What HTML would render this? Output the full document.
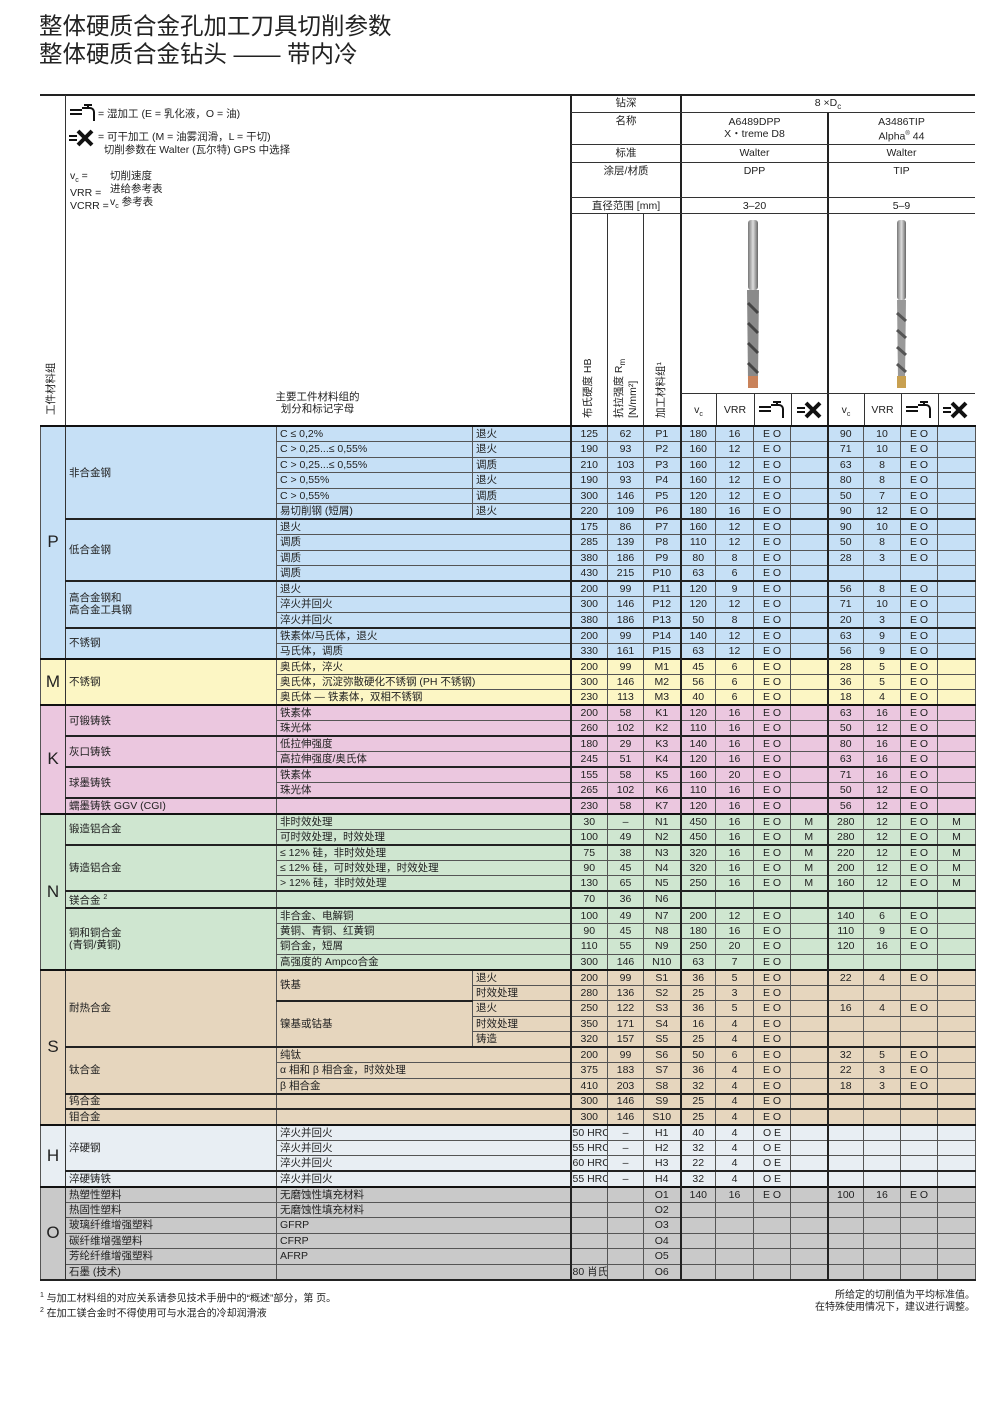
<!DOCTYPE html>
<html><head><meta charset="utf-8">
<style>
*{margin:0;padding:0;box-sizing:border-box}
body{width:1000px;height:1417px;background:#fff;position:relative;font-family:"Liberation Sans","Noto Sans CJK SC",sans-serif;color:#222;overflow:hidden}
.a{position:absolute}
.t{font-size:23.5px;left:39px;line-height:28px;color:#222}
.hl{position:absolute;background:#333;height:1px}
.vl{position:absolute;background:#333;width:1px}
.hc{position:absolute;font-size:10.5px;text-align:center;line-height:12px}
.rot{position:absolute;transform:rotate(-90deg);transform-origin:left top;font-size:10.5px;white-space:nowrap;line-height:11px}
table{position:absolute;left:40px;top:425px;border-collapse:collapse;table-layout:fixed;width:935px;font-size:10.5px}
tr{height:15.5px}
td{border:1px solid #555;padding:0 3px;line-height:12px;white-space:nowrap;overflow:hidden;text-align:center}
td.l{text-align:left;vertical-align:middle}
td.L{font-size:17px;text-align:center;border-right:1px solid #333}
td:nth-last-child(11),td:nth-last-child(8),td:nth-last-child(4){border-left:2px solid #222}
tr.g td{border-top:2px solid #222}
tr.G td{border-top:2px solid #111}
.P{background:#c6e0f6}.M{background:#fcf6c4}.K{background:#ebc7df}.N{background:#cfe6d0}.S{background:#e6d6be}.H{background:#e8eef3}.O{background:#c9c9c9}
.fn{position:absolute;font-size:10px;line-height:12px}
</style></head><body>
<div class="a t" style="top:12px">整体硬质合金孔加工刀具切削参数</div>
<div class="a t" style="top:40px">整体硬质合金钻头 —— 带内冷</div>

<div class="hl" style="left:40px;top:94px;width:935px;height:2px;background:#222"></div>
<div class="vl" style="left:65px;top:95px;height:330px"></div>
<div class="vl" style="left:570px;top:95px;height:330px;width:2px;background:#222"></div>
<div class="vl" style="left:680px;top:95px;height:330px;width:2px;background:#222"></div>
<div class="vl" style="left:827px;top:112px;height:313px;width:2px;background:#222"></div>
<div class="hl" style="left:571px;top:112px;width:404px"></div>
<div class="hl" style="left:571px;top:144px;width:404px"></div>
<div class="hl" style="left:571px;top:162px;width:404px"></div>
<div class="hl" style="left:571px;top:197px;width:404px"></div>
<div class="hl" style="left:571px;top:213px;width:404px"></div>
<div class="vl" style="left:607px;top:213px;height:212px"></div>
<div class="vl" style="left:643px;top:213px;height:212px"></div>
<div class="hl" style="left:681px;top:393px;width:294px"></div>
<div class="vl" style="left:716px;top:393px;height:32px"></div>
<div class="vl" style="left:754px;top:393px;height:32px"></div>
<div class="vl" style="left:791px;top:393px;height:32px"></div>
<div class="vl" style="left:864px;top:393px;height:32px"></div>
<div class="vl" style="left:901px;top:393px;height:32px"></div>
<div class="vl" style="left:938px;top:393px;height:32px"></div>

<div class="hc" style="left:571px;width:110px;top:97px">钻深</div>
<div class="hc" style="left:681px;width:294px;top:97px">8 ×D<sub style="font-size:8px">c</sub></div>
<div class="hc" style="left:571px;width:110px;top:115px">名称</div>
<div class="hc" style="left:681px;width:147px;top:116px">A6489DPP<br>X・treme D8</div>
<div class="hc" style="left:828px;width:147px;top:116px">A3486TIP<br>Alpha<sup style="font-size:6px">®</sup> 44</div>
<div class="hc" style="left:571px;width:110px;top:147px">标准</div>
<div class="hc" style="left:681px;width:147px;top:147px">Walter</div>
<div class="hc" style="left:828px;width:147px;top:147px">Walter</div>
<div class="hc" style="left:571px;width:110px;top:165px">涂层/材质</div>
<div class="hc" style="left:681px;width:147px;top:165px">DPP</div>
<div class="hc" style="left:828px;width:147px;top:165px">TIP</div>
<div class="hc" style="left:571px;width:110px;top:200px">直径范围 [mm]</div>
<div class="hc" style="left:681px;width:147px;top:200px">3–20</div>
<div class="hc" style="left:828px;width:147px;top:200px">5–9</div>

<div class="rot" style="left:583px;top:418px">布氏硬度 HB</div>
<div class="rot" style="left:614px;top:418px">抗拉强度 R<sub style="font-size:8px">m</sub><br>[N/mm²]</div>
<div class="rot" style="left:656px;top:418px">加工材料组¹</div>
<div class="rot" style="left:46px;top:415px">工件材料组</div>

<div class="hc" style="left:681px;width:35px;top:404px">v<sub style="font-size:7px">c</sub></div>
<div class="hc" style="left:716px;width:38px;top:404px">VRR</div>
<div class="hc" style="left:828px;width:36px;top:404px">v<sub style="font-size:7px">c</sub></div>
<div class="hc" style="left:864px;width:37px;top:404px">VRR</div>
<svg class="a" style="left:757px;top:398px" width="32" height="22"><path d="M2 9h12M2 13h12M14 7h8a4 4 0 0 1 4 4v9" stroke="#111" stroke-width="2" fill="none"/><path d="M16 4h8M20 4v4" stroke="#111" stroke-width="2"/></svg>
<svg class="a" style="left:904px;top:398px" width="32" height="22"><path d="M2 9h12M2 13h12M14 7h8a4 4 0 0 1 4 4v9" stroke="#111" stroke-width="2" fill="none"/><path d="M16 4h8M20 4v4" stroke="#111" stroke-width="2"/></svg>
<svg class="a" style="left:796px;top:400px" width="28" height="20"><path d="M1 8h8M1 12h8" stroke="#111" stroke-width="2"/><path d="M10 3l14 14M24 3L10 17" stroke="#111" stroke-width="4"/></svg>
<svg class="a" style="left:942px;top:400px" width="28" height="20"><path d="M1 8h8M1 12h8" stroke="#111" stroke-width="2"/><path d="M10 3l14 14M24 3L10 17" stroke="#111" stroke-width="4"/></svg>

<svg class="a" style="left:740px;top:218px" width="30" height="175"><defs><linearGradient id="d" x1="0" x2="1"><stop offset="0" stop-color="#777"/><stop offset=".5" stop-color="#ddd"/><stop offset="1" stop-color="#666"/></linearGradient></defs><rect x="8" y="2" width="10" height="70" rx="3" fill="url(#d)"/><path d="M7 72h12l-1 90h-10z" fill="#8a8a8a"/><path d="M8 85l10 10M8 105l10 10M8 125l10 10M8 145l10 10" stroke="#444" stroke-width="3"/><rect x="8" y="158" width="10" height="12" fill="#c9825a"/></svg>
<svg class="a" style="left:888px;top:218px" width="30" height="175"><rect x="9" y="2" width="9" height="80" rx="3" fill="url(#d)"/><path d="M9 82h9l-1 80h-7z" fill="#999"/><path d="M9 95l9 8M9 112l9 8M9 129l9 8M9 146l9 8" stroke="#555" stroke-width="3"/><rect x="9" y="158" width="9" height="12" fill="#c8a050"/></svg>

<svg class="a" style="left:68px;top:101px" width="30" height="22"><path d="M2 9h12M2 13h12M14 7h8a4 4 0 0 1 4 4v9" stroke="#111" stroke-width="2" fill="none"/><path d="M16 4h8M20 4v4" stroke="#111" stroke-width="2"/></svg>
<div class="a" style="left:98px;top:106px;font-size:10.5px">= 湿加工 (E = 乳化液，O = 油)</div>
<svg class="a" style="left:68px;top:128px" width="28" height="20"><path d="M1 8h8M1 12h8" stroke="#111" stroke-width="2"/><path d="M10 3l14 14M24 3L10 17" stroke="#111" stroke-width="4"/></svg>
<div class="a" style="left:98px;top:131px;font-size:10.5px;line-height:13px">= 可干加工 (M = 油雾润滑，L = 干切)<br>&nbsp;&nbsp;切削参数在 Walter (瓦尔特) GPS 中选择</div>
<div class="a" style="left:70px;top:170px;font-size:10.5px;line-height:13px">v<sub style="font-size:7px">c</sub> =<br>VRR =<br>VCRR =</div>
<div class="a" style="left:110px;top:170px;font-size:10.5px;line-height:13px">切削速度<br>进给参考表<br>v<sub style="font-size:7px">c</sub> 参考表</div>
<div class="hc" style="left:250px;width:135px;top:391px">主要工件材料组的<br>划分和标记字母</div>

<table>
<colgroup><col style="width:25px"><col style="width:211px"><col style="width:196px"><col style="width:98px"><col style="width:37px"><col style="width:36px"><col style="width:37px"><col style="width:35px"><col style="width:38px"><col style="width:37px"><col style="width:37px"><col style="width:36px"><col style="width:37px"><col style="width:37px"><col style="width:38px"></colgroup>
<tr class="P G"><td class="L P" rowspan="15">P</td><td class="l" rowspan="6">非合金钢</td><td class="l">C ≤ 0,2%</td><td class="l">退火</td><td>125</td><td>62</td><td>P1</td><td>180</td><td>16</td><td>E O</td><td></td><td>90</td><td>10</td><td>E O</td><td></td></tr>
<tr class="P"><td class="l">C &gt; 0,25...≤ 0,55%</td><td class="l">退火</td><td>190</td><td>93</td><td>P2</td><td>160</td><td>12</td><td>E O</td><td></td><td>71</td><td>10</td><td>E O</td><td></td></tr>
<tr class="P"><td class="l">C &gt; 0,25...≤ 0,55%</td><td class="l">调质</td><td>210</td><td>103</td><td>P3</td><td>160</td><td>12</td><td>E O</td><td></td><td>63</td><td>8</td><td>E O</td><td></td></tr>
<tr class="P"><td class="l">C &gt; 0,55%</td><td class="l">退火</td><td>190</td><td>93</td><td>P4</td><td>160</td><td>12</td><td>E O</td><td></td><td>80</td><td>8</td><td>E O</td><td></td></tr>
<tr class="P"><td class="l">C &gt; 0,55%</td><td class="l">调质</td><td>300</td><td>146</td><td>P5</td><td>120</td><td>12</td><td>E O</td><td></td><td>50</td><td>7</td><td>E O</td><td></td></tr>
<tr class="P"><td class="l">易切削钢 (短屑)</td><td class="l">退火</td><td>220</td><td>109</td><td>P6</td><td>180</td><td>16</td><td>E O</td><td></td><td>90</td><td>12</td><td>E O</td><td></td></tr>
<tr class="P g"><td class="l" rowspan="4">低合金钢</td><td class="l" colspan="2">退火</td><td>175</td><td>86</td><td>P7</td><td>160</td><td>12</td><td>E O</td><td></td><td>90</td><td>10</td><td>E O</td><td></td></tr>
<tr class="P"><td class="l" colspan="2">调质</td><td>285</td><td>139</td><td>P8</td><td>110</td><td>12</td><td>E O</td><td></td><td>50</td><td>8</td><td>E O</td><td></td></tr>
<tr class="P"><td class="l" colspan="2">调质</td><td>380</td><td>186</td><td>P9</td><td>80</td><td>8</td><td>E O</td><td></td><td>28</td><td>3</td><td>E O</td><td></td></tr>
<tr class="P"><td class="l" colspan="2">调质</td><td>430</td><td>215</td><td>P10</td><td>63</td><td>6</td><td>E O</td><td></td><td></td><td></td><td></td><td></td></tr>
<tr class="P g"><td class="l" rowspan="3">高合金钢和<br>高合金工具钢</td><td class="l" colspan="2">退火</td><td>200</td><td>99</td><td>P11</td><td>120</td><td>9</td><td>E O</td><td></td><td>56</td><td>8</td><td>E O</td><td></td></tr>
<tr class="P"><td class="l" colspan="2">淬火并回火</td><td>300</td><td>146</td><td>P12</td><td>120</td><td>12</td><td>E O</td><td></td><td>71</td><td>10</td><td>E O</td><td></td></tr>
<tr class="P"><td class="l" colspan="2">淬火并回火</td><td>380</td><td>186</td><td>P13</td><td>50</td><td>8</td><td>E O</td><td></td><td>20</td><td>3</td><td>E O</td><td></td></tr>
<tr class="P g"><td class="l" rowspan="2">不锈钢</td><td class="l" colspan="2">铁素体/马氏体，退火</td><td>200</td><td>99</td><td>P14</td><td>140</td><td>12</td><td>E O</td><td></td><td>63</td><td>9</td><td>E O</td><td></td></tr>
<tr class="P"><td class="l" colspan="2">马氏体，调质</td><td>330</td><td>161</td><td>P15</td><td>63</td><td>12</td><td>E O</td><td></td><td>56</td><td>9</td><td>E O</td><td></td></tr>

<tr class="M G"><td class="L M" rowspan="3">M</td><td class="l" rowspan="3">不锈钢</td><td class="l" colspan="2">奥氏体，淬火</td><td>200</td><td>99</td><td>M1</td><td>45</td><td>6</td><td>E O</td><td></td><td>28</td><td>5</td><td>E O</td><td></td></tr>
<tr class="M"><td class="l" colspan="2">奥氏体，沉淀弥散硬化不锈钢 (PH 不锈钢)</td><td>300</td><td>146</td><td>M2</td><td>56</td><td>6</td><td>E O</td><td></td><td>36</td><td>5</td><td>E O</td><td></td></tr>
<tr class="M"><td class="l" colspan="2">奥氏体 — 铁素体，双相不锈钢</td><td>230</td><td>113</td><td>M3</td><td>40</td><td>6</td><td>E O</td><td></td><td>18</td><td>4</td><td>E O</td><td></td></tr>

<tr class="K G"><td class="L K" rowspan="7">K</td><td class="l" rowspan="2">可锻铸铁</td><td class="l" colspan="2">铁素体</td><td>200</td><td>58</td><td>K1</td><td>120</td><td>16</td><td>E O</td><td></td><td>63</td><td>16</td><td>E O</td><td></td></tr>
<tr class="K"><td class="l" colspan="2">珠光体</td><td>260</td><td>102</td><td>K2</td><td>110</td><td>16</td><td>E O</td><td></td><td>50</td><td>12</td><td>E O</td><td></td></tr>
<tr class="K g"><td class="l" rowspan="2">灰口铸铁</td><td class="l" colspan="2">低拉伸强度</td><td>180</td><td>29</td><td>K3</td><td>140</td><td>16</td><td>E O</td><td></td><td>80</td><td>16</td><td>E O</td><td></td></tr>
<tr class="K"><td class="l" colspan="2">高拉伸强度/奥氏体</td><td>245</td><td>51</td><td>K4</td><td>120</td><td>16</td><td>E O</td><td></td><td>63</td><td>16</td><td>E O</td><td></td></tr>
<tr class="K g"><td class="l" rowspan="2">球墨铸铁</td><td class="l" colspan="2">铁素体</td><td>155</td><td>58</td><td>K5</td><td>160</td><td>20</td><td>E O</td><td></td><td>71</td><td>16</td><td>E O</td><td></td></tr>
<tr class="K"><td class="l" colspan="2">珠光体</td><td>265</td><td>102</td><td>K6</td><td>110</td><td>16</td><td>E O</td><td></td><td>50</td><td>12</td><td>E O</td><td></td></tr>
<tr class="K g"><td class="l">蠕墨铸铁 GGV (CGI)</td><td class="l" colspan="2"></td><td>230</td><td>58</td><td>K7</td><td>120</td><td>16</td><td>E O</td><td></td><td>56</td><td>12</td><td>E O</td><td></td></tr>

<tr class="N G"><td class="L N" rowspan="10">N</td><td class="l" rowspan="2">锻造铝合金</td><td class="l" colspan="2">非时效处理</td><td>30</td><td>–</td><td>N1</td><td>450</td><td>16</td><td>E O</td><td>M</td><td>280</td><td>12</td><td>E O</td><td>M</td></tr>
<tr class="N"><td class="l" colspan="2">可时效处理，时效处理</td><td>100</td><td>49</td><td>N2</td><td>450</td><td>16</td><td>E O</td><td>M</td><td>280</td><td>12</td><td>E O</td><td>M</td></tr>
<tr class="N g"><td class="l" rowspan="3">铸造铝合金</td><td class="l" colspan="2">≤ 12% 硅，非时效处理</td><td>75</td><td>38</td><td>N3</td><td>320</td><td>16</td><td>E O</td><td>M</td><td>220</td><td>12</td><td>E O</td><td>M</td></tr>
<tr class="N"><td class="l" colspan="2">≤ 12% 硅，可时效处理，时效处理</td><td>90</td><td>45</td><td>N4</td><td>320</td><td>16</td><td>E O</td><td>M</td><td>200</td><td>12</td><td>E O</td><td>M</td></tr>
<tr class="N"><td class="l" colspan="2">&gt; 12% 硅，非时效处理</td><td>130</td><td>65</td><td>N5</td><td>250</td><td>16</td><td>E O</td><td>M</td><td>160</td><td>12</td><td>E O</td><td>M</td></tr>
<tr class="N g"><td class="l">镁合金 <sup style="font-size:7px">2</sup></td><td class="l" colspan="2"></td><td>70</td><td>36</td><td>N6</td><td></td><td></td><td></td><td></td><td></td><td></td><td></td><td></td></tr>
<tr class="N g"><td class="l" rowspan="4">铜和铜合金<br>(青铜/黄铜)</td><td class="l" colspan="2">非合金、电解铜</td><td>100</td><td>49</td><td>N7</td><td>200</td><td>12</td><td>E O</td><td></td><td>140</td><td>6</td><td>E O</td><td></td></tr>
<tr class="N"><td class="l" colspan="2">黄铜、青铜、红黄铜</td><td>90</td><td>45</td><td>N8</td><td>180</td><td>16</td><td>E O</td><td></td><td>110</td><td>9</td><td>E O</td><td></td></tr>
<tr class="N"><td class="l" colspan="2">铜合金，短屑</td><td>110</td><td>55</td><td>N9</td><td>250</td><td>20</td><td>E O</td><td></td><td>120</td><td>16</td><td>E O</td><td></td></tr>
<tr class="N"><td class="l" colspan="2">高强度的 Ampco合金</td><td>300</td><td>146</td><td>N10</td><td>63</td><td>7</td><td>E O</td><td></td><td></td><td></td><td></td><td></td></tr>

<tr class="S G"><td class="L S" rowspan="10">S</td><td class="l" rowspan="5">耐热合金</td><td class="l" rowspan="2">铁基</td><td class="l">退火</td><td>200</td><td>99</td><td>S1</td><td>36</td><td>5</td><td>E O</td><td></td><td>22</td><td>4</td><td>E O</td><td></td></tr>
<tr class="S"><td class="l">时效处理</td><td>280</td><td>136</td><td>S2</td><td>25</td><td>3</td><td>E O</td><td></td><td></td><td></td><td></td><td></td></tr>
<tr class="S"><td class="l" rowspan="3" style="border-top:2px solid #222">镍基或钴基</td><td class="l">退火</td><td>250</td><td>122</td><td>S3</td><td>36</td><td>5</td><td>E O</td><td></td><td>16</td><td>4</td><td>E O</td><td></td></tr>
<tr class="S"><td class="l">时效处理</td><td>350</td><td>171</td><td>S4</td><td>16</td><td>4</td><td>E O</td><td></td><td></td><td></td><td></td><td></td></tr>
<tr class="S"><td class="l">铸造</td><td>320</td><td>157</td><td>S5</td><td>25</td><td>4</td><td>E O</td><td></td><td></td><td></td><td></td><td></td></tr>
<tr class="S g"><td class="l" rowspan="3">钛合金</td><td class="l" colspan="2">纯钛</td><td>200</td><td>99</td><td>S6</td><td>50</td><td>6</td><td>E O</td><td></td><td>32</td><td>5</td><td>E O</td><td></td></tr>
<tr class="S"><td class="l" colspan="2">α 相和 β 相合金，时效处理</td><td>375</td><td>183</td><td>S7</td><td>36</td><td>4</td><td>E O</td><td></td><td>22</td><td>3</td><td>E O</td><td></td></tr>
<tr class="S"><td class="l" colspan="2">β 相合金</td><td>410</td><td>203</td><td>S8</td><td>32</td><td>4</td><td>E O</td><td></td><td>18</td><td>3</td><td>E O</td><td></td></tr>
<tr class="S g"><td class="l">钨合金</td><td class="l" colspan="2"></td><td>300</td><td>146</td><td>S9</td><td>25</td><td>4</td><td>E O</td><td></td><td></td><td></td><td></td><td></td></tr>
<tr class="S g"><td class="l">钼合金</td><td class="l" colspan="2"></td><td>300</td><td>146</td><td>S10</td><td>25</td><td>4</td><td>E O</td><td></td><td></td><td></td><td></td><td></td></tr>

<tr class="H G"><td class="L H" rowspan="4">H</td><td class="l" rowspan="3">淬硬钢</td><td class="l" colspan="2">淬火并回火</td><td style="text-align:left;padding:0 1px">50 HRC</td><td>–</td><td>H1</td><td>40</td><td>4</td><td>O E</td><td></td><td></td><td></td><td></td><td></td></tr>
<tr class="H"><td class="l" colspan="2">淬火并回火</td><td style="text-align:left;padding:0 1px">55 HRC</td><td>–</td><td>H2</td><td>32</td><td>4</td><td>O E</td><td></td><td></td><td></td><td></td><td></td></tr>
<tr class="H"><td class="l" colspan="2">淬火并回火</td><td style="text-align:left;padding:0 1px">60 HRC</td><td>–</td><td>H3</td><td>22</td><td>4</td><td>O E</td><td></td><td></td><td></td><td></td><td></td></tr>
<tr class="H g"><td class="l">淬硬铸铁</td><td class="l" colspan="2">淬火并回火</td><td style="text-align:left;padding:0 1px">55 HRC</td><td>–</td><td>H4</td><td>32</td><td>4</td><td>O E</td><td></td><td></td><td></td><td></td><td></td></tr>

<tr class="O G"><td class="L O" rowspan="6">O</td><td class="l">热塑性塑料</td><td class="l" colspan="2">无磨蚀性填充材料</td><td></td><td></td><td>O1</td><td>140</td><td>16</td><td>E O</td><td></td><td>100</td><td>16</td><td>E O</td><td></td></tr>
<tr class="O"><td class="l">热固性塑料</td><td class="l" colspan="2">无磨蚀性填充材料</td><td></td><td></td><td>O2</td><td></td><td></td><td></td><td></td><td></td><td></td><td></td><td></td></tr>
<tr class="O"><td class="l">玻璃纤维增强塑料</td><td class="l" colspan="2">GFRP</td><td></td><td></td><td>O3</td><td></td><td></td><td></td><td></td><td></td><td></td><td></td><td></td></tr>
<tr class="O"><td class="l">碳纤维增强塑料</td><td class="l" colspan="2">CFRP</td><td></td><td></td><td>O4</td><td></td><td></td><td></td><td></td><td></td><td></td><td></td><td></td></tr>
<tr class="O"><td class="l">芳纶纤维增强塑料</td><td class="l" colspan="2">AFRP</td><td></td><td></td><td>O5</td><td></td><td></td><td></td><td></td><td></td><td></td><td></td><td></td></tr>
<tr class="O" style="border-bottom:2px solid #222"><td class="l">石墨 (技术)</td><td class="l" colspan="2"></td><td style="text-align:left;padding:0 1px">80 肖氏</td><td></td><td>O6</td><td></td><td></td><td></td><td></td><td></td><td></td><td></td><td></td></tr>
</table>

<div class="fn" style="left:40px;top:1290px"><sup style="font-size:7px">1</sup> 与加工材料组的对应关系请参见技术手册中的“概述”部分，第 页。<br><sup style="font-size:7px">2</sup> 在加工镁合金时不得使用可与水混合的冷却润滑液</div>
<div class="fn" style="right:25px;top:1290px;text-align:right">所给定的切削值为平均标准值。<br>在特殊使用情况下，建议进行调整。</div>
</body></html>
